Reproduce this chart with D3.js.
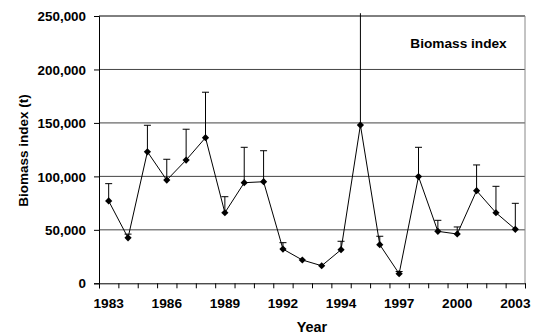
<!DOCTYPE html>
<html><head><meta charset="utf-8">
<script src="https://cdn.jsdelivr.net/npm/d3@7"></script>
<style>
html,body{margin:0;padding:0;background:#fff;}
svg{display:block;}
text{font-family:"Liberation Sans",Arial,sans-serif;font-weight:bold;fill:#000;}
</style></head>
<body>
<svg id="chart" width="533" height="334"></svg>
<script>
const categories = ["1983","1984","1985","1986","1987","1988","1989","1990","1991","1992","1993","1993b","1994","1995","1996","1997","1998","1999","2000","2001","2002","2003"];
const biomass = [77000, 42500, 123000, 96500, 115300, 136200, 66000, 94100, 95000, 32000, 21800, 16400, 31400, 148000, 36100, 9000, 99800, 48600, 46100, 86600, 66000, 50500];
const upperError = [93200, 46000, 147800, 116000, 144100, 178700, 81000, 127200, 124000, 38000, null, null, 39300, 252600, 44000, 11000, 127200, 58900, 52700, 110700, 90700, 74800];
const xTickLabels = ["1983","1986","1989","1992","1994","1997","2000","2003"];
const yTicks = [0, 50000, 100000, 150000, 200000, 250000];

const W = 533, H = 334;
const margin = {left: 99, right: 8, top: 16, bottom: 50.7};
const svg = d3.select("#chart");
const x = d3.scaleBand().domain(categories).range([margin.left, W - margin.right]).padding(0);
const xEdge = d3.scaleLinear().domain([0, categories.length]).range([margin.left, W - margin.right]);
const y = d3.scaleLinear().domain([0, 250000]).range([H - margin.bottom, margin.top]);
const cx = d => x(d) + x.bandwidth() / 2;
const fmt = d3.format(",");

function stretch(sel, f) {
  sel.each(function() {
    const w = this.getComputedTextLength();
    d3.select(this).attr("textLength", w * f).attr("lengthAdjust", "spacingAndGlyphs");
  });
}

// gridlines
svg.append("g").selectAll("line").data(yTicks.filter(t => t > 0)).join("line")
  .attr("x1", margin.left).attr("x2", W - margin.right)
  .attr("y1", d => y(d)).attr("y2", d => y(d))
  .attr("stroke", d => d === 250000 ? "#000" : "#444").attr("stroke-width", 1);

// right border
svg.append("line")
  .attr("x1", W - margin.right).attr("x2", W - margin.right)
  .attr("y1", y(250000)).attr("y2", y(0))
  .attr("stroke", "#888").attr("stroke-width", 1);

// y axis
const yAxis = svg.append("g").attr("transform", `translate(${margin.left},0)`)
  .call(d3.axisLeft(y).tickValues(yTicks).tickFormat(fmt).tickSize(5).tickPadding(8));
yAxis.select(".domain").attr("stroke", "#000");
yAxis.selectAll(".tick line").attr("stroke", "#000");
yAxis.selectAll("text").attr("font-size", 13).attr("dy", "0.36em").call(stretch, 1.03);

// x axis tick marks at category boundaries
const xAxisMarks = svg.append("g").attr("transform", `translate(0,${y(0)})`)
  .call(d3.axisBottom(xEdge).tickValues(d3.range(categories.length + 1)).tickFormat("").tickSize(5));
xAxisMarks.select(".domain").attr("stroke", "#000");
xAxisMarks.selectAll(".tick line").attr("stroke", "#000");

// x axis labels at category centres
const xAxisLabels = svg.append("g").attr("transform", `translate(0,${y(0)})`)
  .call(d3.axisBottom(x).tickValues(xTickLabels).tickSize(0).tickPadding(15.5));
xAxisLabels.select(".domain").remove();
xAxisLabels.selectAll("text").attr("font-size", 13).attr("dy", "0.71em").call(stretch, 1.05);

// error bars
const err = categories.map((c, i) => ({c, v: biomass[i], u: upperError[i]})).filter(d => d.u !== null);
const eg = svg.append("g").attr("stroke", "#000").attr("stroke-width", 1);
eg.selectAll("line.v").data(err).join("line").attr("class", "v")
  .attr("x1", d => cx(d.c)).attr("x2", d => cx(d.c))
  .attr("y1", d => y(d.v)).attr("y2", d => y(d.u));
eg.selectAll("line.cap").data(err.filter(d => d.u <= 250000)).join("line").attr("class", "cap")
  .attr("x1", d => cx(d.c) - 3.5).attr("x2", d => cx(d.c) + 3.5)
  .attr("y1", d => y(d.u)).attr("y2", d => y(d.u));

// line
const line = d3.line().x((d, i) => cx(categories[i])).y(d => y(d));
svg.append("path").datum(biomass).attr("d", line)
  .attr("fill", "none").attr("stroke", "#000").attr("stroke-width", 1);

// markers
const diamond = d3.symbol(d3.symbolSquare, 26)();
svg.append("g").selectAll("path").data(biomass).join("path")
  .attr("d", diamond)
  .attr("transform", (d, i) => `translate(${cx(categories[i])},${y(d)}) rotate(45)`)
  .attr("fill", "#000");

// legend-like label
svg.append("text").attr("x", 506.7).attr("y", 48).attr("text-anchor", "end")
  .attr("font-size", 13).text("Biomass index").call(stretch, 1.05);

// axis titles
svg.append("text").attr("x", (margin.left + W - margin.right) / 2).attr("y", 332)
  .attr("text-anchor", "middle").attr("font-size", 14).text("Year").call(stretch, 1.03);

svg.append("text").attr("transform", "translate(28,150.5) rotate(-90)")
  .attr("text-anchor", "middle").attr("font-size", 13.5).text("Biomass index (t)");
</script>
</body></html>
